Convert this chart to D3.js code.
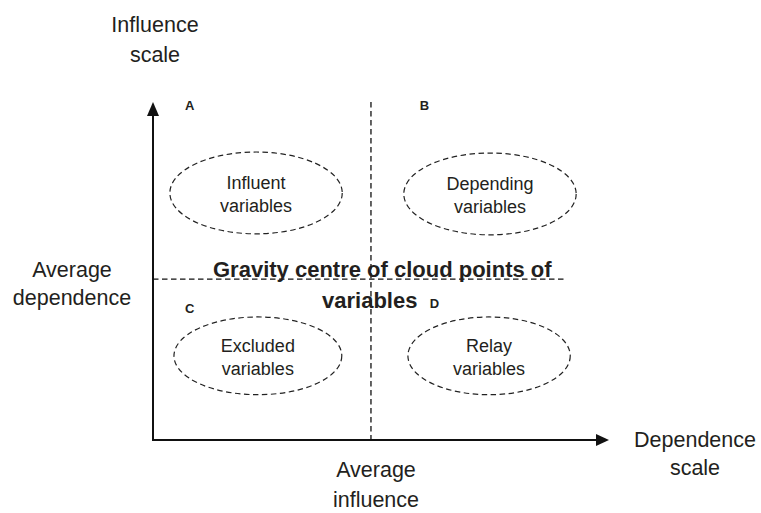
<!DOCTYPE html>
<html><head><meta charset="utf-8">
<script src="https://cdn.jsdelivr.net/npm/d3@7"></script>
<style>body{margin:0;background:#fff}svg{display:block}text{font-family:"Liberation Sans",Arial,sans-serif;fill:#231f20}</style>
</head><body><svg id="c" width="761" height="513"></svg>
<script>
// Conceptual space (0-100) on both axes
const averageInfluence = 47.8;   // position of vertical dashed line
const averageDependence = 47.6;  // position of horizontal dashed line
const quadrantLetters = ["A", "B", "C", "D"];
const quadrantNames = [["Influent", "variables"], ["Depending", "variables"], ["Excluded", "variables"], ["Relay", "variables"]];
const quadrantCx = [22.6, 73.9, 23.0, 73.7];
const quadrantCy = [73.1, 72.8, 24.9, 24.9];
const quadrantRx = [18.9, 18.9, 18.4, 17.8];
const quadrantRy = [12.1, 12.1, 11.5, 11.5];
const gravityLines = ["Gravity centre of cloud points of", "variables"];

const svg = d3.select("#c");
const x = d3.scaleLinear().domain([0, 100]).range([153, 609]);
const y = d3.scaleLinear().domain([0, 100]).range([440, 102]);

// axes with arrows
svg.append("line").attr("x1", x(0)).attr("x2", x(0)).attr("y1", y(0) + 1).attr("y2", y(100) + 12)
  .attr("stroke", "#111").attr("stroke-width", 2);
svg.append("path").attr("d", `M${x(0)},${y(100)} L${x(0)-6},${y(100)+14} L${x(0)+6},${y(100)+14} Z`).attr("fill", "#111");
svg.append("line").attr("x1", x(0) - 1).attr("x2", x(100) - 12).attr("y1", y(0)).attr("y2", y(0))
  .attr("stroke", "#111").attr("stroke-width", 2);
svg.append("path").attr("d", `M${x(100)},${y(0)} L${x(100)-13},${y(0)-6} L${x(100)-13},${y(0)+6} Z`).attr("fill", "#111");

// dashed average lines
svg.append("line").attr("x1", x(averageInfluence)).attr("x2", x(averageInfluence)).attr("y1", y(100)).attr("y2", y(0))
  .attr("stroke", "#111").attr("stroke-width", 1.3).attr("stroke-dasharray", "5.5,3.5");
svg.append("line").attr("x1", x(0)).attr("x2", x(90.6)).attr("y1", y(averageDependence)).attr("y2", y(averageDependence))
  .attr("stroke", "#111").attr("stroke-width", 1.3).attr("stroke-dasharray", "5.5,3.5");

// ellipses
const q = quadrantLetters.map((l, i) => ({l, i, names: quadrantNames[i], cx: quadrantCx[i], cy: quadrantCy[i], rx: quadrantRx[i], ry: quadrantRy[i]}));
svg.selectAll("ellipse.q").data(q).join("ellipse")
  .attr("cx", d => x(d.cx)).attr("cy", d => y(d.cy))
  .attr("rx", d => x(d.rx) - x(0)).attr("ry", d => y(0) - y(d.ry))
  .attr("fill", "none").attr("stroke", "#222").attr("stroke-width", 1.2).attr("stroke-dasharray", "5.5,3.5");

q.forEach(d => {
  const t = svg.append("text").attr("text-anchor", "middle").attr("font-size", 18);
  t.append("tspan").attr("x", x(d.cx)).attr("y", y(d.cy) - 4).text(d.names[0]);
  t.append("tspan").attr("x", x(d.cx)).attr("y", y(d.cy) + 19).text(d.names[1]);
});

// quadrant letters
const letterPos = [[7, 97.6], [58.5, 97.6], [7, 37.6], [60.7, 39.1]];
svg.selectAll("text.letter").data(q).join("text").attr("class", "letter")
  .attr("x", d => x(letterPos[d.i][0])).attr("y", d => y(letterPos[d.i][1]))
  .attr("font-size", 13).attr("font-weight", "bold").text(d => d.l);

// gravity centre text
svg.append("text").attr("x", 213).attr("y", 277).attr("font-size", 22).attr("font-weight", "bold").text(gravityLines[0]);
svg.append("text").attr("x", 322).attr("y", 308).attr("font-size", 22).attr("font-weight", "bold").text(gravityLines[1]);

// axis titles
function label(cx, ys, lines) {
  const t = svg.append("text").attr("text-anchor", "middle").attr("font-size", 21.5);
  lines.forEach((s, i) => t.append("tspan").attr("x", cx).attr("y", ys[i]).text(s));
}
label(155, [32, 62], ["Influence", "scale"]);
label(72, [277, 305], ["Average", "dependence"]);
label(376, [477, 507], ["Average", "influence"]);
label(695, [447, 475], ["Dependence", "scale"]);
</script></body></html>
